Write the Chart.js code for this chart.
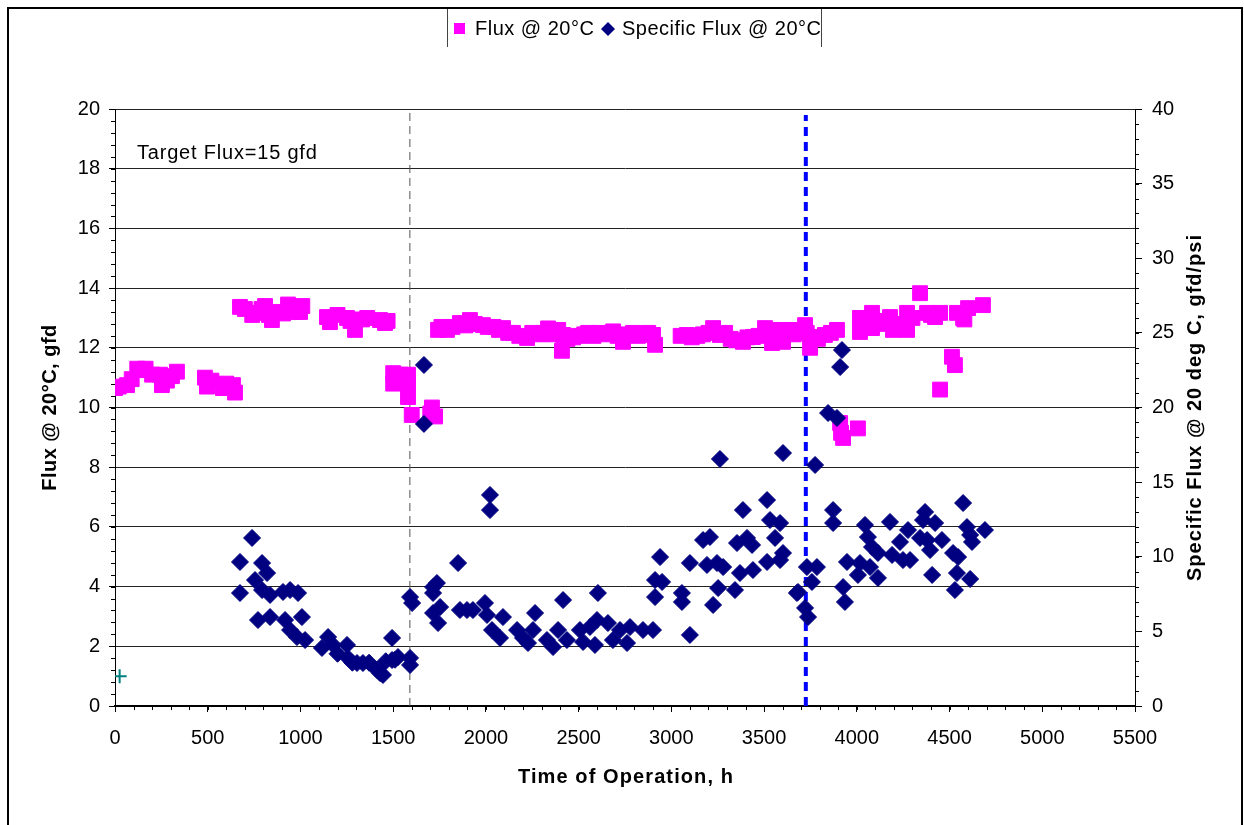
<!DOCTYPE html>
<html><head><meta charset="utf-8">
<script src="https://cdn.jsdelivr.net/npm/chart.js@4.4.1/dist/chart.umd.min.js"></script>
<style>html,body{margin:0;padding:0;background:#fff;}#wrap{position:relative;width:1244px;height:825px;}</style>
</head><body><div id="wrap"><canvas id="c" width="1244" height="825"></canvas></div>
<script>
// ---- data ----
const fluxPoints = [
  [0,10.65],[20,10.7],[65,10.75],[90,10.95],[120,11.3],[140,11.25],[165,11.3],[200,11.1],[243,11.1],[253,10.75],
  [280,10.9],[307,11.05],[334,11.2],[485,11.0],[496,10.7],[520,10.9],[582,10.65],[600,10.8],[636,10.75],[647,10.5],
  [674,13.37],[700,13.3],[740,13.1],[755,13.17],[790,13.3],[809,13.4],[830,13.1],[846,12.93],[880,13.2],[906,13.15],
  [933,13.45],[950,13.3],[970,13.2],[998,13.2],[1010,13.4],[1143,13.03],[1159,12.86],[1200,13.1],[1251,13.0],[1270,12.9],
  [1294,12.6],[1332,12.95],[1360,13.0],[1429,12.93],[1456,12.83],[1470,12.9],
  [1500,11.15],[1500,10.8],[1540,11.1],[1580,11.1],[1580,10.8],[1580,10.35],[1600,9.75],[1700,9.8],[1709,10.0],[1726,9.7],
  [1742,12.6],[1760,12.7],[1790,12.6],[1820,12.7],[1860,12.83],[1890,12.75],[1914,12.93],[1940,12.8],[1984,12.76],[2010,12.7],
  [2040,12.7],[2070,12.6],[2092,12.66],[2120,12.5],[2146,12.5],[2180,12.4],[2222,12.33],[2250,12.5],[2280,12.45],[2310,12.5],
  [2335,12.65],[2360,12.45],[2390,12.6],[2410,11.9],[2416,12.43],[2440,12.3],[2470,12.35],[2500,12.4],[2530,12.45],[2551,12.5],
  [2580,12.4],[2610,12.5],[2640,12.45],[2686,12.55],[2710,12.4],[2739,12.2],[2760,12.45],[2793,12.5],[2820,12.4],[2850,12.45],
  [2875,12.5],[2901,12.43],[2912,12.1],[3050,12.4],[3084,12.43],[3110,12.35],[3140,12.4],[3170,12.45],[3200,12.5],[3225,12.66],
  [3262,12.43],[3290,12.5],[3320,12.3],[3350,12.25],[3386,12.2],[3410,12.35],[3440,12.36],[3470,12.4],[3505,12.66],[3532,12.6],
  [3543,12.16],[3560,12.3],[3602,12.6],[3602,12.2],[3624,12.5],[3660,12.45],[3677,12.6],[3721,12.76],[3730,12.5],[3748,12.0],
  [3760,12.36],[3790,12.3],[3828,12.43],[3860,12.5],[3893,12.6],
  [3910,9.48],[3915,9.15],[3926,8.98],[4006,9.3],
  [4017,13.0],[4017,12.53],[4040,12.8],[4082,13.17],[4082,12.66],[4110,12.9],[4140,12.8],[4179,13.03],[4195,12.6],[4230,12.8],
  [4271,13.17],[4271,12.6],[4300,13.0],[4341,13.83],[4379,13.17],[4400,13.1],[4422,13.03],[4449,13.17],[4449,10.6],[4513,11.7],
  [4529,11.42],[4540,13.17],[4573,13.0],[4580,12.95],[4600,13.33],[4680,13.43]
];
const specificFluxPoints = [
  [674,9.65],[674,7.57],[739,11.26],[755,8.44],[793,9.58],[820,8.91],[771,5.76],[793,7.77],[836,7.44],[836,5.96],
  [906,7.64],[944,7.77],[987,7.57],[917,5.76],[944,5.09],[981,4.62],[1008,5.96],[1025,4.42],[1116,3.89],[1149,4.62],
  [1176,4.09],[1200,3.5],[1251,4.09],[1256,3.22],[1280,2.9],[1305,2.88],[1337,2.88],[1370,2.9],[1413,2.41],[1430,2.2],
  [1445,2.08],[1460,3.0],[1494,4.56],[1494,3.08],[1510,3.1],[1526,3.28],[1591,7.3],[1602,6.9],[1591,3.22],[1591,2.75],
  [1666,22.85],[1666,18.9],
  [1715,7.97],[1715,7.57],[1715,6.23],[1742,5.56],[1753,6.63],[1736,8.24],[1850,9.58],[1860,6.43],[1898,6.43],[1930,6.43],
  [1995,6.9],[2006,6.1],[2022,14.14],[2022,13.13],[2033,5.09],[2076,4.56],[2092,5.96],[2168,5.09],[2200,4.56],[2227,4.22],
  [2254,5.09],[2265,6.23],[2329,4.42],[2362,3.95],[2389,5.09],[2416,7.1],[2437,4.42],[2507,5.09],[2524,4.29],[2561,5.29],
  [2588,4.09],[2599,5.76],[2604,7.57],[2658,5.56],[2685,4.42],[2723,5.09],[2761,4.22],[2777,5.29],[2847,5.09],[2901,5.09],
  [2912,7.30],[2912,8.44],[2939,9.98],[2950,8.31],[3057,7.57],[3057,6.97],[3100,9.58],[3100,4.76],[3171,11.12],[3208,11.32],
  [3192,9.45],[3246,9.58],[3252,7.9],[3225,6.77],[3262,16.55],[3279,9.31],[3343,7.77],[3354,10.92],[3386,13.13],[3408,11.26],
  [3435,10.79],[3370,8.91],[3440,9.11],[3516,13.8],[3532,12.46],[3586,12.26],[3559,11.26],[3516,9.65],[3586,9.78],[3602,10.25],
  [3677,7.57],[3602,16.95],[3775,16.15],[3845,19.63],[3893,19.3],[3910,22.71],[3920,23.85],
  [3731,9.31],[3785,9.31],[3758,8.31],[3683,7.64],[3721,6.57],[3737,5.96],[3872,13.13],[3872,12.26],[3926,7.97],[3936,6.97],
  [3947,9.65],[4044,12.13],[4060,11.32],[4082,10.65],[4017,9.58],[4006,8.78],[4071,9.31],[4114,8.58],[4114,10.25],[4179,12.33],
  [4190,10.12],[4233,10.99],[4276,11.79],[4249,9.78],[4287,9.78],[4368,13.0],[4357,12.46],[4422,12.26],[4341,11.26],[4379,11.12],
  [4459,11.12],[4395,10.45],[4406,8.78],[4519,10.25],[4546,9.98],[4573,13.6],[4594,11.99],[4611,11.46],[4621,10.99],[4540,8.91],
  [4529,7.77],[4611,8.51],[4691,11.79]
];
const cleaningPoints = [[25,1.0]];
const eventLinesX = [1590, 3725];
const xTickValues = [0,500,1000,1500,2000,2500,3000,3500,4000,4500,5000,5500];
const leftTickValues = [0,2,4,6,8,10,12,14,16,18,20];
const rightTickValues = [0,5,10,15,20,25,30,35,40];
const seriesLabels = ['Flux @ 20°C', 'Specific Flux @ 20°C'];
const xTitle = 'Time of Operation, h';
const yTitle = 'Flux @ 20°C, gfd';
const y2Title = 'Specific Flux @ 20 deg C, gfd/psi';
const noteText = 'Target Flux=15 gfd';

// ---- chart ----
const FONT = "'Liberation Sans', Arial, sans-serif";
Chart.defaults.font.family = FONT;
Chart.defaults.color = '#000';
const toXY = a => a.map(p => ({x: p[0], y: p[1]}));
const plain = v => String(v);

function minorTicks(chart, scaleId, step, len, side) {
  const s = chart.scales[scaleId], c = chart.ctx;
  c.save(); c.strokeStyle = '#000'; c.lineWidth = 1; c.beginPath();
  const n = Math.round((s.max - s.min) / step);
  for (let i = 0; i <= n; i++) {
    const v = s.min + i * step;
    const p = s.getPixelForValue(v);
    if (side === 'left') { const yy = Math.round(p) + 0.5; c.moveTo(s.right - len, yy); c.lineTo(s.right, yy); }
    else if (side === 'right') { const yy = Math.round(p) + 0.5; c.moveTo(s.left, yy); c.lineTo(s.left + len, yy); }
    else { const xx = Math.round(p) + 0.5; c.moveTo(xx, s.top); c.lineTo(xx, s.top + len); }
  }
  c.stroke(); c.restore();
}

const decor = {
  id: 'decor',
  afterDraw(chart) {
    const c = chart.ctx, a = chart.chartArea;
    minorTicks(chart, 'y', 0.4, 4, 'left');
    minorTicks(chart, 'y2', 1, 4, 'right');
    minorTicks(chart, 'x', 100, 4, 'bottom');
    c.save();
    c.fillStyle = '#000';
    // note
    c.font = '20px ' + FONT; c.textAlign = 'left'; c.textBaseline = 'middle';
    c.letterSpacing = '0.8px';
    c.fillText(noteText, 137, 153);
    // axis titles
    c.font = 'bold 20px ' + FONT; c.textAlign = 'center'; c.textBaseline = 'middle';
    c.letterSpacing = '1.1px';
    c.fillText(xTitle, (a.left + a.right) / 2 + 1, 777);
    const cy = (a.top + a.bottom) / 2;
    c.letterSpacing = '0.5px';
    c.save(); c.translate(50, cy); c.rotate(-Math.PI / 2); c.fillText(yTitle, 0, 0); c.restore();
    c.letterSpacing = '1px';
    c.save(); c.translate(1195, cy); c.rotate(-Math.PI / 2); c.fillText(y2Title, 0, 0); c.restore();
    // legend
    const d0 = chart.data.datasets[0], d1 = chart.data.datasets[1];
    c.strokeStyle = '#444'; c.lineWidth = 1;
    c.beginPath(); c.moveTo(447.5, 9); c.lineTo(447.5, 47); c.moveTo(821.5, 9); c.lineTo(821.5, 47); c.stroke();
    c.fillStyle = d0.backgroundColor; c.fillRect(454, 23, 11, 11);
    c.fillStyle = d1.backgroundColor; c.beginPath();
    c.moveTo(608, 22); c.lineTo(615, 29); c.lineTo(608, 36); c.lineTo(601, 29); c.closePath(); c.fill();
    c.fillStyle = '#000'; c.font = '20px ' + FONT; c.textAlign = 'left'; c.textBaseline = 'middle';
    c.letterSpacing = '0.5px';
    c.fillText(d0.label, 475, 29);
    c.fillText(d1.label, 622, 29);
    c.letterSpacing = '0px';
    // outer frame
    c.strokeStyle = '#000'; c.lineWidth = 2;
    c.strokeRect(8, 8, 1234, 830);
    c.restore();
  }
};

new Chart(document.getElementById('c'), {
  type: 'scatter',
  data: {
    datasets: [
      {label: seriesLabels[0], data: toXY(fluxPoints), yAxisID: 'y', pointStyle: 'rect', pointRadius: 10.5, pointHoverRadius: 10.5,
       backgroundColor: '#ff00ff', borderColor: '#ff00ff', borderWidth: 1, order: 3},
      {label: seriesLabels[1], data: toXY(specificFluxPoints), yAxisID: 'y2', pointStyle: 'rectRot', pointRadius: 8.5, pointHoverRadius: 8.5,
       backgroundColor: '#000080', borderColor: '#000080', borderWidth: 1, order: 2},
      {label: 'cleaning', data: toXY(cleaningPoints), yAxisID: 'y', pointStyle: 'cross', pointRadius: 7,
       borderColor: '#008080', backgroundColor: '#008080', borderWidth: 2, order: 1},
      {type: 'line', label: 'event1', data: [{x: eventLinesX[0], y: 0}, {x: eventLinesX[0], y: 20}], yAxisID: 'y',
       borderColor: '#555', borderWidth: 1, borderDash: [8, 5], pointRadius: 0, fill: false, order: 6},
      {type: 'line', label: 'event2', data: [{x: eventLinesX[1], y: 0}, {x: eventLinesX[1], y: 19.8}], yAxisID: 'y',
       borderColor: '#0000ff', borderWidth: 4, borderDash: [9, 6], pointRadius: 0, fill: false, order: 5}
    ]
  },
  options: {
    responsive: false, animation: false, events: [],
    layout: {padding: {top: 109, left: 0, right: 0, bottom: 0}},
    plugins: {legend: {display: false}, tooltip: {enabled: false}},
    scales: {
      x: {type: 'linear', position: 'bottom', min: 0, max: 5500,
          afterBuildTicks: s => { s.ticks = xTickValues.map(v => ({value: v})); },
          afterFit: s => { s.height = 119; },
          grid: {drawOnChartArea: false, tickLength: 6, tickColor: '#000'},
          border: {color: '#000', width: 2},
          ticks: {font: {size: 20}, padding: 14, maxRotation: 0, autoSkip: false, color: '#000', callback: plain}},
      y: {type: 'linear', position: 'left', min: 0, max: 20,
          afterBuildTicks: s => { s.ticks = leftTickValues.map(v => ({value: v})); },
          afterFit: s => { s.width = 115; },
          grid: {color: '#222', lineWidth: 1, tickLength: 6, tickColor: '#000'},
          border: {color: '#000', width: 1},
          ticks: {font: {size: 20}, padding: 9, color: '#000', callback: plain}},
      y2: {type: 'linear', position: 'right', min: 0, max: 40,
          afterBuildTicks: s => { s.ticks = rightTickValues.map(v => ({value: v})); },
          afterFit: s => { s.width = 109; },
          grid: {drawOnChartArea: false, tickLength: 7, tickColor: '#000'},
          border: {color: '#000', width: 1},
          ticks: {font: {size: 20}, padding: 10, color: '#000', callback: plain}}
    }
  },
  plugins: [decor]
});
</script></body></html>
